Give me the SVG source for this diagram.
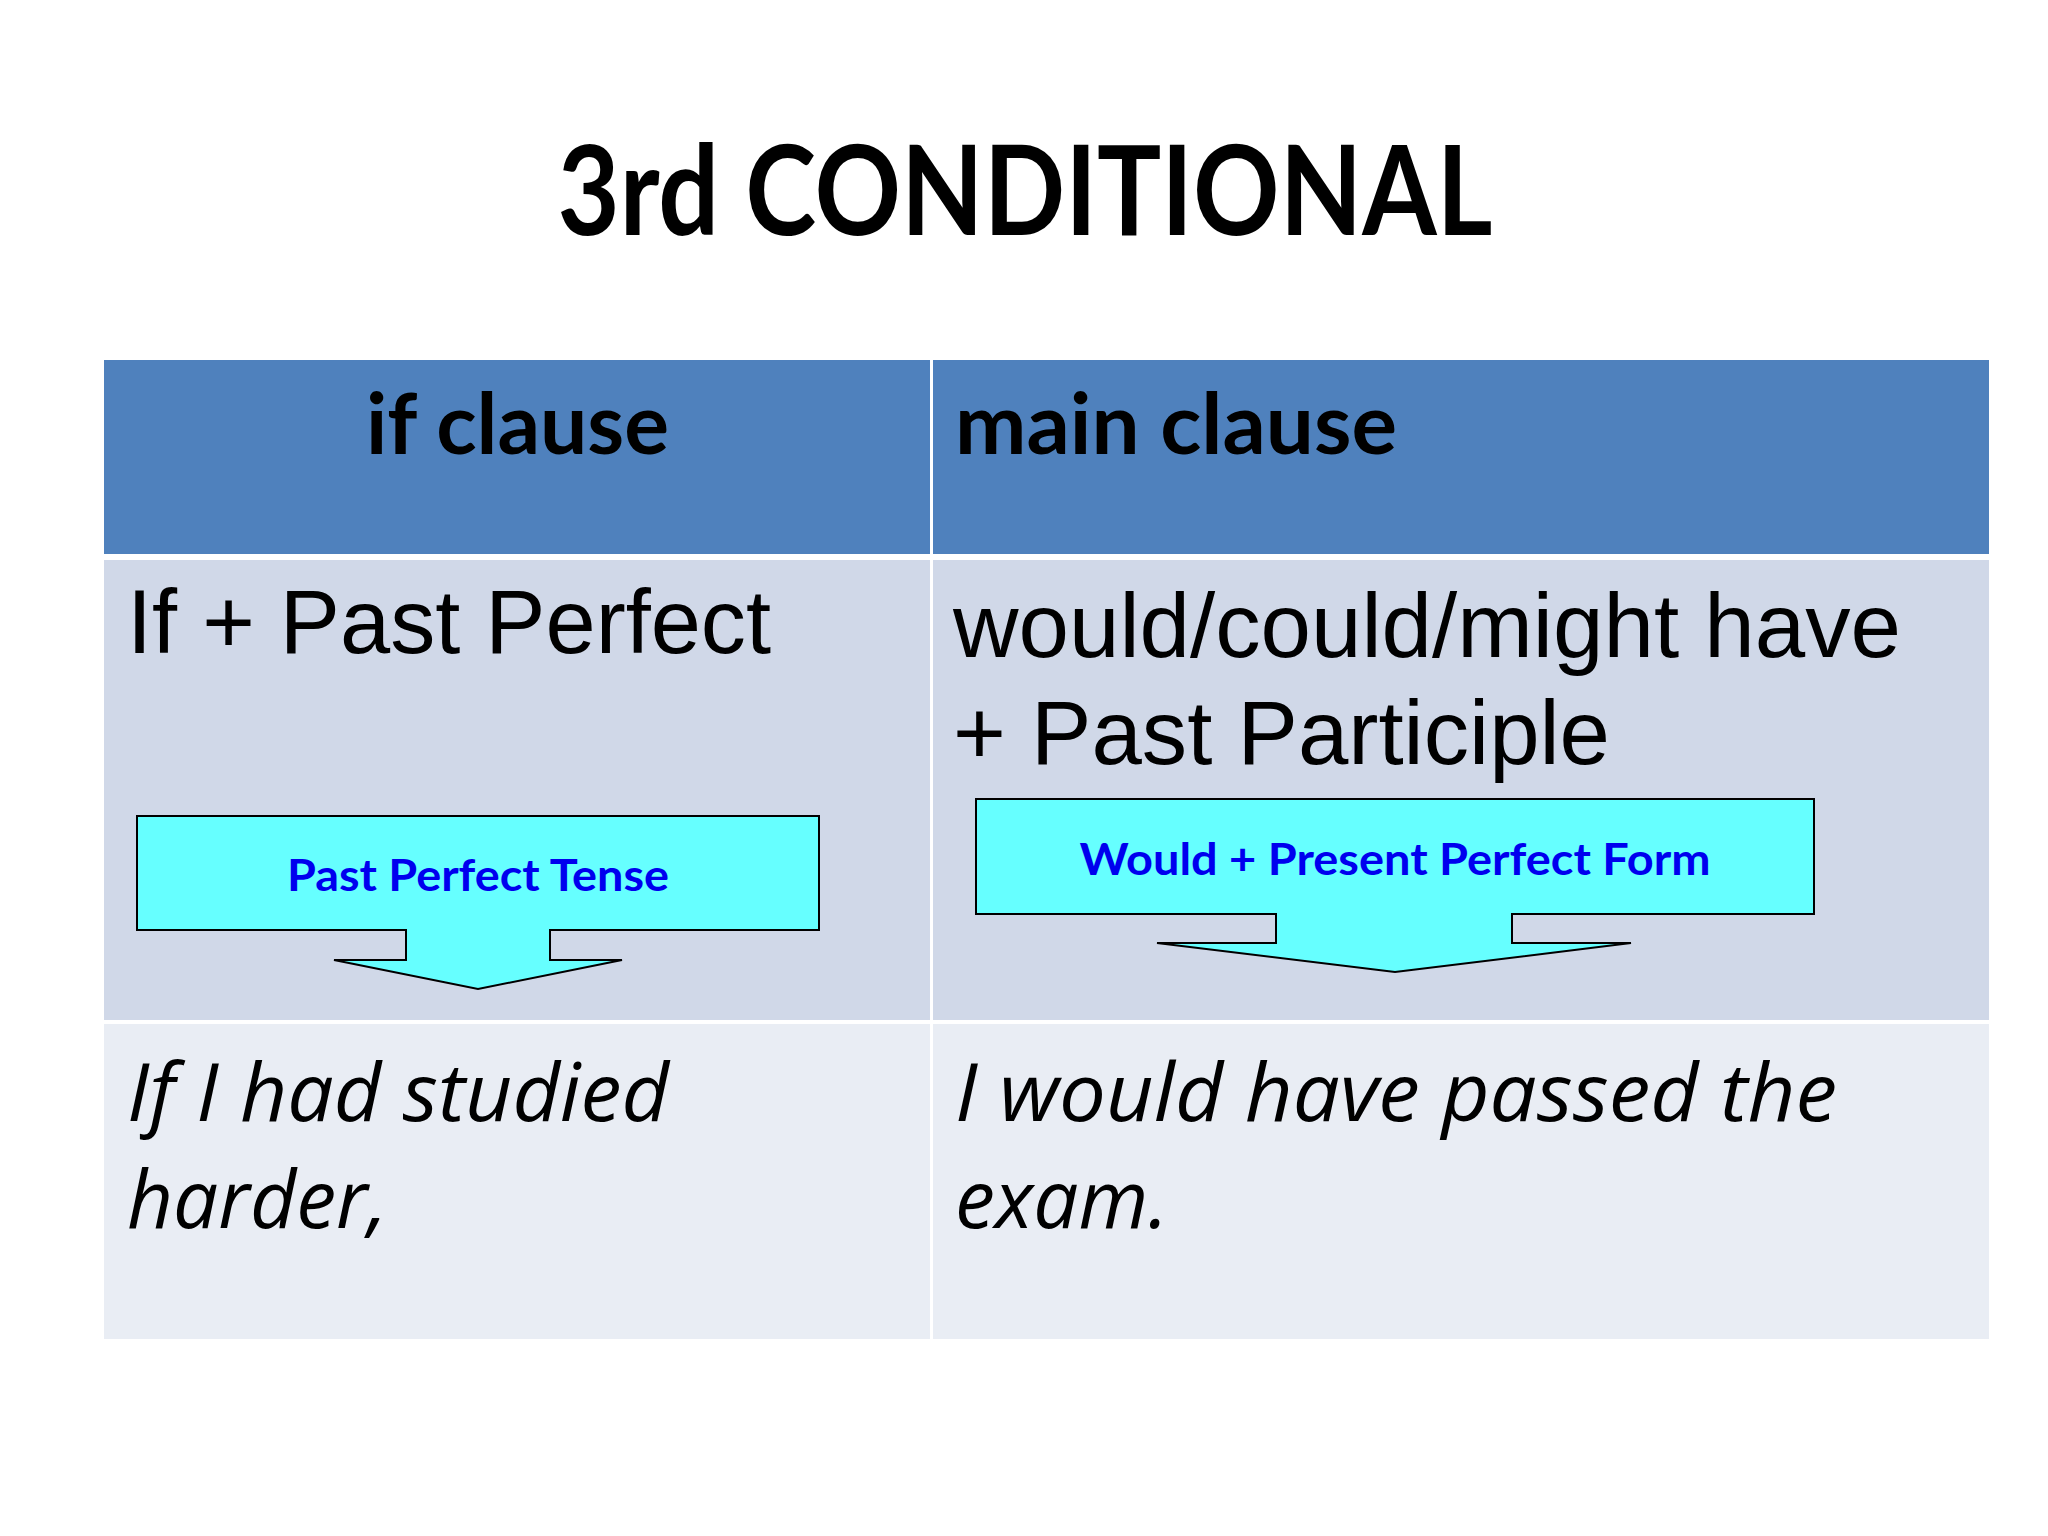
<svg xmlns="http://www.w3.org/2000/svg" width="2048" height="1536" viewBox="0 0 2048 1536">
<style>
.cal{font-family:Lato,"Open Sans","Liberation Sans",sans-serif}
.ar{font-family:"Liberation Sans",Arial,sans-serif}
.it{font-family:"Open Sans","Liberation Sans",sans-serif;font-style:italic}
.call{fill:#66FFFF;stroke:#000;stroke-width:2}
.ct{font-family:Lato,"Open Sans",sans-serif;font-weight:bold;fill:#0000EE;font-size:44px}
</style>
<rect width="2048" height="1536" fill="#fff"/>
<text class="cal" x="1025" y="235" font-size="124" font-weight="bold" text-anchor="middle" textLength="935" lengthAdjust="spacingAndGlyphs">3rd CONDITIONAL</text>
<g id="table">
<rect x="104" y="360" width="826" height="194" fill="#4F81BD"/>
<rect x="933" y="360" width="1056" height="194" fill="#4F81BD"/>
<rect x="104" y="560" width="826" height="460" fill="#D0D8E8"/>
<rect x="933" y="560" width="1056" height="460" fill="#D0D8E8"/>
<rect x="104" y="1024" width="826" height="315" fill="#E9EDF4"/>
<rect x="933" y="1024" width="1056" height="315" fill="#E9EDF4"/>
</g>
<g id="headers">
<text class="cal" x="366" y="454" font-size="84" font-weight="bold" textLength="303" lengthAdjust="spacingAndGlyphs">if clause</text>
<text class="cal" x="955" y="454" font-size="84" font-weight="bold" textLength="442" lengthAdjust="spacingAndGlyphs">main clause</text>
</g>
<g id="row2">
<text class="ar" x="127" y="653" font-size="91" textLength="644" lengthAdjust="spacingAndGlyphs">If + Past Perfect</text>
<text class="ar" x="953" y="657" font-size="91" textLength="948" lengthAdjust="spacingAndGlyphs">would/could/might have</text>
<text class="ar" x="953" y="764" font-size="91" textLength="657" lengthAdjust="spacingAndGlyphs">+ Past Participle</text>
</g>
<g id="callout-left">
<path class="call" d="M137 816H819V930H550V960H622L478 989L334 960H406V930H137Z"/>
<text class="ct" x="478" y="891" text-anchor="middle" textLength="382" lengthAdjust="spacingAndGlyphs">Past Perfect Tense</text>
</g>
<g id="callout-right">
<path class="call" d="M976 799H1814V914H1512V943H1631L1395 972L1157 943H1276V914H976Z"/>
<text class="ct" x="1395" y="875" text-anchor="middle" textLength="631" lengthAdjust="spacingAndGlyphs">Would + Present Perfect Form</text>
</g>
<g id="row3">
<text class="it" x="127" y="1121" font-size="80" textLength="542" lengthAdjust="spacingAndGlyphs">If I had studied</text>
<text class="it" x="127" y="1228" font-size="80">harder,</text>
<text class="it" x="955" y="1121" font-size="80" textLength="882" lengthAdjust="spacingAndGlyphs">I would have passed the</text>
<text class="it" x="955" y="1228" font-size="80">exam.</text>
</g>
</svg>
